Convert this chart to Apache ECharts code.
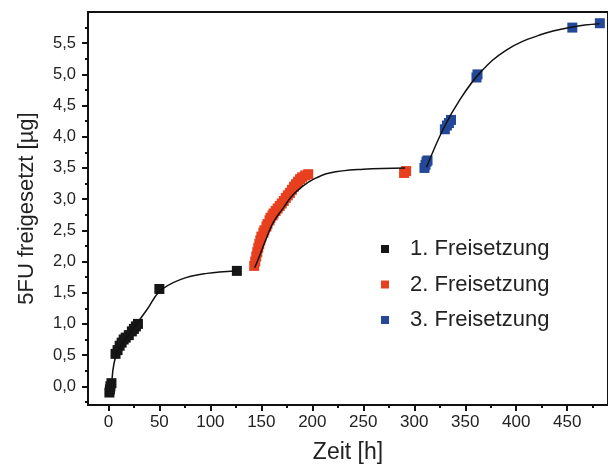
<!DOCTYPE html>
<html>
<head>
<meta charset="utf-8">
<script src="https://cdn.jsdelivr.net/npm/echarts@6/dist/echarts.min.js"></script>
<style>html,body{margin:0;padding:0;background:#fff}#c{width:608px;height:469px}</style>
</head>
<body>
<div id="c"></div>
<script>
// --- data ---
var seriesNames = ['1. Freisetzung', '2. Freisetzung', '3. Freisetzung'];
var xMajorTicks = [0, 50, 100, 150, 200, 250, 300, 350, 400, 450];
var xMinorTicks = [25, 75, 125, 175, 225, 275, 325, 375, 425, 475];
var yMajorTicks = [0, 0.5, 1, 1.5, 2, 2.5, 3, 3.5, 4, 4.5, 5, 5.5];
var yMinorTicks = [-0.25, 0.25, 0.75, 1.25, 1.75, 2.25, 2.75, 3.25, 3.75, 4.25, 4.75, 5.25, 5.75];

var release1 = [[1,-0.1],[1.5,-0.05],[2,0.0],[3,0.05],[7,0.52],[9,0.58],[11,0.65],[13,0.7],[15,0.75],[17,0.78],[20,0.82],[23,0.88],[25,0.92],[27,0.96],[29,1.0],[50,1.56],[126,1.85]];
var release2 = [[143,1.93],[144,2.0],[145,2.08],[146,2.15],[147,2.22],[148,2.28],[149,2.34],[150,2.4],[152,2.46],[153,2.5],[155,2.56],[156,2.6],[158,2.66],[159,2.7],[161,2.74],[162,2.77],[164,2.81],[166,2.85],[168,2.89],[170,2.93],[172,2.97],[174,3.02],[176,3.06],[178,3.1],[180,3.15],[182,3.2],[184,3.24],[186,3.28],[188,3.32],[190,3.35],[193,3.38],[196,3.4],[290,3.42],[292,3.45]];
var release3 = [[310,3.5],[311,3.55],[312,3.6],[313,3.62],[330,4.12],[332,4.18],[334,4.22],[336,4.27],[361,4.95],[362,5.0],[455,5.75],[482,5.82]];

var fit1 = [[3.6,0.12],[8.5,0.54],[21.5,0.86],[37.9,1.23],[50.2,1.52],[70.5,1.71],[96.6,1.81],[124.3,1.85]];
var fit2 = [[143.5,1.9],[148,2.08],[153.7,2.32],[161.8,2.63],[171.6,2.86],[180,3.05],[190,3.2],[200,3.31],[217,3.42],[250,3.48],[291,3.5]];
var fit3 = [[312,3.51],[328.3,4.12],[344.6,4.59],[364.2,5.02],[390.3,5.39],[422.9,5.63],[455.5,5.76],[481.6,5.81]];

var colors = ['#161616', '#e8401f', '#23489a'];
var FONT = 'Liberation Sans, Arial, sans-serif';
var TXT = '#222';

var chart = echarts.init(document.getElementById('c'));

function fmtY(v){ return v.toFixed(1).replace('.', ','); }

var option = {
  animation: false,
  grid: { left: 88, top: 12, right: -1, bottom: 61, show: true, borderColor: '#111', borderWidth: 2, backgroundColor: 'transparent' },
  legend: {
    data: seriesNames.map(function(n){ return {name: n, icon: 'rect'}; }),
    orient: 'vertical', left: 376, top: 233, itemWidth: 8, itemHeight: 8, itemGap: 13.5,
    textStyle: { fontFamily: FONT, fontSize: 22, color: TXT, padding: [0,0,0,16] }
  },
  xAxis: [{
    type: 'value', min: -20, max: 490,
    name: 'Zeit [h]', nameLocation: 'middle', nameGap: 36,
    nameTextStyle: { fontFamily: FONT, fontSize: 23, color: TXT },
    axisLine: { show: true, onZero: false, lineStyle: { color: '#111', width: 2 } },
    axisTick: { show: true, customValues: xMajorTicks, length: 6, lineStyle: { color: '#111', width: 2 } },
    axisLabel: { customValues: xMajorTicks, fontFamily: FONT, fontSize: 17, color: TXT, margin: 9 },
    splitLine: { show: false }
  }, {
    type: 'value', min: -20, max: 490, position: 'bottom',
    axisLine: { show: false, onZero: false },
    axisTick: { show: true, customValues: xMinorTicks, length: 3, lineStyle: { color: '#111', width: 2 } },
    axisLabel: { show: false }, splitLine: { show: false }
  }],
  yAxis: [{
    type: 'value', min: -0.3, max: 6.0,
    name: '5FU freigesetzt [µg]', nameLocation: 'middle', nameGap: 50, nameRotate: 90,
    nameTextStyle: { fontFamily: FONT, fontSize: 22, color: TXT },
    axisLine: { show: true, onZero: false, lineStyle: { color: '#111', width: 2 } },
    axisTick: { show: true, customValues: yMajorTicks, length: 6, lineStyle: { color: '#111', width: 2 } },
    axisLabel: { customValues: yMajorTicks, fontFamily: FONT, fontSize: 16.5, color: TXT, margin: 12, formatter: fmtY },
    splitLine: { show: false }
  }, {
    type: 'value', min: -0.3, max: 6.0, position: 'left',
    axisLine: { show: false, onZero: false },
    axisTick: { show: true, customValues: yMinorTicks, length: 3, lineStyle: { color: '#111', width: 2 } },
    axisLabel: { show: false }, splitLine: { show: false }
  }],
  series: [
    { name: seriesNames[0], type: 'scatter', data: release1, symbol: 'rect', symbolSize: 10, itemStyle: { color: colors[0], opacity: 1 }, z: 2 },
    { name: seriesNames[1], type: 'scatter', data: release2, symbol: 'rect', symbolSize: 10, itemStyle: { color: colors[1], opacity: 1 }, z: 2 },
    { name: seriesNames[2], type: 'scatter', data: release3, symbol: 'rect', symbolSize: 10, itemStyle: { color: colors[2], opacity: 1 }, z: 2 },
    { name: 'fit1', type: 'line', data: fit1, smooth: 0.4, showSymbol: false, symbol: 'none', lineStyle: { color: '#111', width: 1.5 }, z: 3, silent: true },
    { name: 'fit2', type: 'line', data: fit2, smooth: 0.4, showSymbol: false, symbol: 'none', lineStyle: { color: '#111', width: 1.5 }, z: 3, silent: true },
    { name: 'fit3', type: 'line', data: fit3, smooth: 0.4, showSymbol: false, symbol: 'none', lineStyle: { color: '#111', width: 1.5 }, z: 3, silent: true }
  ]
};
chart.setOption(option);
</script>
</body>
</html>
